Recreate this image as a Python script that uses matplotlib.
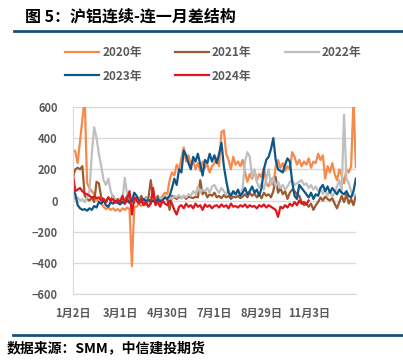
import matplotlib.pyplot as plt
import numpy as np
from matplotlib.lines import Line2D

plt.rcParams['font.family'] = ['Noto Sans CJK SC', 'DejaVu Sans']

# x axis: trading days sampled every other day, a label every 20 samples
x_labels = ['1月2日', '3月1日', '4月30日', '7月1日', '8月29日', '11月3日']
label_step = 20

v2020 = [325, 315, 240, 380, 520, 650, 110, 80, 60, 40,
         10, -10, -20, -40, -55, -45, -60, -50, -65, -55,
         -70, -50, -60, -45, -55, -420, -40, -40, -20, -35,
         -10, -30, 0, -20, 10, -15, 20, -10, 30, 50,
         40, 130, 180, 160, 230, 200, 270, 340, 250, 290,
         230, 260, 200, 240, 190, 250, 210, 230, 180, 220,
         240, 270, 220, 440, 450, 300, 260, 200, 280, 230,
         250, 220, 260, 180, 120, 170, 140, 190, 130, 170,
         150, 210, 110, 90, 140, 100, 220, 260, 210, 240,
         190, 220, 200, 310, 280, 230, 260, 220, 250, 230,
         270, 210, 250, 240, 300, 260, 290, 140, 220, 180,
         240, 170, 130, 200, 160, 110, 200, 180, 220, 650, 215]

v2021 = [150, 200, 210, 200, 220, 30, 10, 0, 20, -10,
         120, 110, 20, 10, -10, 20, 0, 30, -10, 10,
         -20, 20, 0, 30, -10, 10, -15, 20, 0, 30,
         -10, 20, 10, 130, 20, 0, 30, -10, 10, 20,
         10, -60, 30, 20, 10, 25, 15, 30, 10, 25,
         20, 15, 25, 20, 130, 40, 60, 20, 40, 30,
         50, 20, 30, 15, 35, 20, 30, 10, 25, 20,
         30, 15, 25, 40, 20, 50, 30, 45, 20, 40,
         15, 50, 30, 40, 20, 60, 150, 50, 80, 40,
         60, 10, 50, 70, 60, 40, 30, -10, -30, -20,
         -40, -20, -60, -30, -10, 20, 0, 25, 10, 0,
         15, -20, -50, -10, 30, -10, 40, -20, 10, -30, 35]

v2022 = [30, 10, 20, 0, 10, -10, 20, 60, 300, 470,
         400, 300, 220, 130, 100, 140, 60, 20, 10, 0,
         15, 5, 145, 40, 10, 20, 0, -10, 10, -20,
         0, 15, -10, 20, 0, 10, -10, 20, 10, 30,
         20, 25, 10, 30, 20, 35, 15, 30, 20, 40,
         30, 60, 40, 90, 50, 70, 60, 80, 50, 90,
         100, 70, 50, 80, 60, 40, 70, 30, 50, 40,
         60, 30, 80, 250, 310, 280, 150, 200, 120, 80,
         110, 70, 140, 200, 100, 150, 90, 120, 80, 100,
         70, 90, 120, 130, 100, 110, 120, 130, 100, 110,
         80, 100, 70, 90, 60, 80, 40, 70, 30, 60,
         25, 50, 90, 130, 60, 550, 140, 110, 60, 30, 40]

v2023 = [70, 40, -30, -50, -60, -55, -65, -50, -60, -35,
         -45, -10, -20, 0, -30, -40, -10, -20, -5, -15,
         -25, -10, -20, 0, -15, -5, 50, 30, 0, -10,
         10, -5, 5, -10, 0, -15, 10, -5, 0, 20,
         10, 30, 80, 140, 100, 200, 180, 320, 290, 240,
         200, 280, 250, 300, 230, 160, 260, 240, 300, 250,
         290, 240, 300, 370, 220, 130, 50, 30, 60, 40,
         70, 30, 50, 80, 40, 60, 90, 50, 70, 30,
         80, 200, 260, 280, 330, 400, 260, 200, 190, 180,
         230, 270, 250, 120, 30, 10, 100, 80, 60, 40,
         20, 50, 10, 40, 30, 80, 100, 60, 90, 50,
         80, 60, 40, 70, 50, 40, 60, 30, 20, 60, 140]

v2024 = [170, 60, 70, 80, 60, 45, 40, 30, 20, 25,
         15, 20, 0, 10, -10, 20, 0, 10, -15, 5,
         -10, 30, -20, 10, 60, -90, 20, 0, -20, 10,
         -30, -10, -40, -20, 80, -30, -10, -40, 0, -20,
         -30, 0, -20, -60, -90, -40, -30, -50, -20, -40,
         -30, -50, -20, -40, -30, -60, -25, -40, -30, -50,
         -35, -30, -45, -25, -40, -30, -50, -20, -40, -35,
         -45, -30, -40, -25, -45, -30, -40, -35, -50, -30,
         -40, -25, -45, -30, -40, -50, -60, -105, -40, -50,
         -30, -45, -20, -35, -10, -30, 0, -20, -10, -25,
         0]

series = [
    ('2020年', v2020, '#F7894A'),
    ('2021年', v2021, '#9C5B2E'),
    ('2022年', v2022, '#BFBFBF'),
    ('2023年', v2023, '#0F5688'),
    ('2024年', v2024, '#E0161F'),
]

fig = plt.figure(figsize=(4.03, 3.6), dpi=100)
ax = fig.add_axes([0.181, 0.183, 0.702, 0.520])

lines = {}
for name, vals, color in series:
    lines[name], = ax.plot(np.arange(len(vals)), vals, color=color, lw=1.6, label=name)

ax.set_ylim(-600, 600)
ax.set_yticks(range(-600, 601, 200))
ax.set_xlim(0, 120)
ax.set_xticks(np.arange(len(x_labels)) * label_step)
ax.set_xticklabels(x_labels)
ax.grid(axis='y', color='#D9D9D9', lw=1)
ax.set_axisbelow(True)
for s in ['top', 'right']:
    ax.spines[s].set_visible(False)
ax.spines['left'].set_color('#D9D9D9')
ax.spines['bottom'].set_color('#D9D9D9')
ax.tick_params(axis='y', length=0, labelsize=8, labelcolor='#595959', pad=11)
ax.tick_params(axis='x', length=0, labelsize=8, labelcolor='#595959', pad=9)
for lbl in ax.get_xticklabels() + ax.get_yticklabels():
    lbl.set_fontweight('bold')

# legend fills column by column, so order it to read row by row
order = ['2020年', '2023年', '2021年', '2024年', '2022年']
fig.legend([lines[k] for k in order], order,
           loc='upper left', bbox_to_anchor=(65 / 403, 1 - 46 / 360), ncol=3,
           frameon=False, handlelength=2.9, handletextpad=0.25, columnspacing=2.8,
           labelspacing=0.9, borderpad=0, borderaxespad=0, labelcolor='#595959',
           prop={'size': 8.5, 'weight': 'bold'})

# header and footer
fig.text(25 / 403, 1 - 16 / 360, '图 5：沪铝连续-连一月差结构', fontsize=11.5,
         weight='bold', va='center', ha='left')
fig.add_artist(Line2D([14 / 403, 1], [1 - 31 / 360] * 2, color='#1F4E79', lw=2))
fig.add_artist(Line2D([13 / 403, 1], [1 - 335 / 360] * 2, color='#1F4E79', lw=2))
fig.text(7 / 403, 1 - 348 / 360, '数据来源：SMM，中信建投期货', fontsize=10,
         weight='bold', style='italic', va='center', ha='left')

fig.savefig('out.png', dpi=100)
